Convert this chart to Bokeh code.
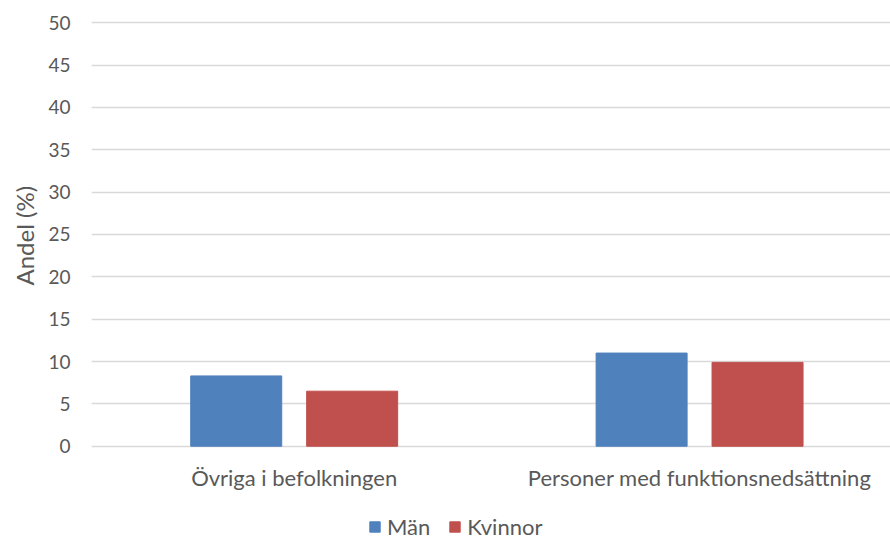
from bokeh.plotting import figure
from bokeh.models import Range1d, FixedTicker, Legend, LegendItem, ColumnDataSource, Title
from bokeh.core.properties import value
from bokeh.embed import file_html
from bokeh.resources import INLINE

categories = ["Övriga i befolkningen", "Personer med funktionsnedsättning"]
man = [8.3, 11.0]
kvinnor = [6.5, 9.9]
series_names = ["Män", "Kvinnor"]
y_ticks = [0, 5, 10, 15, 20, 25, 30, 35, 40, 45, 50]
y_title = "Andel (%)"

FONT = "Lato"
TXT = "#595959"
GRID = "#d9d9d9"
BLUE = "#4f81bd"
RED = "#c0504d"

xpos = [i + 0.5 for i in range(len(categories))]
src = ColumnDataSource(dict(
    xm=[x - 0.143 for x in xpos],
    xk=[x + 0.143 for x in xpos],
    man=man, kvinnor=kvinnor,
))
lab = ColumnDataSource(dict(x=xpos, y=[-3.7] * len(categories), text=categories))

p = figure(width=890, height=541, output_backend="svg", toolbar_location=None,
           x_range=Range1d(0, 1.971), y_range=Range1d(-11.25, 52.63),
           min_border_left=91, min_border_right=0, min_border_top=0, min_border_bottom=0)
p.outline_line_color = None
p.background_fill_color = "white"
p.border_fill_color = "white"
p.xaxis.visible = False

rm = p.vbar(x="xm", top="man", width=0.2245, source=src, fill_color=BLUE, line_color=BLUE)
rk = p.vbar(x="xk", top="kvinnor", width=0.2245, source=src, fill_color=RED, line_color=RED)

# category labels (below the zero line)
p.text(x="x", y="y", text="text", source=lab, text_align="center", text_baseline="middle",
       text_font=value(FONT), text_font_size="22px", text_color=TXT)

# y axis
p.yaxis.ticker = FixedTicker(ticks=y_ticks)
p.yaxis.axis_line_color = None
p.yaxis.major_tick_line_color = None
p.yaxis.minor_tick_line_color = None
p.yaxis.major_tick_out = 0
p.yaxis.major_tick_in = 0
p.yaxis.minor_tick_out = 0
p.yaxis.major_label_standoff = 21
p.yaxis.major_label_text_font = FONT
p.yaxis.major_label_text_font_size = "19px"
p.yaxis.major_label_text_color = TXT

# y axis title, centred on the 0-50 plot area
yt = Title(text=y_title, align="left", offset=256, standoff=13,
           text_font=FONT, text_font_size="24px", text_font_style="normal",
           text_color=TXT)
p.add_layout(yt, "left")

p.ygrid.ticker = FixedTicker(ticks=y_ticks)
p.ygrid.grid_line_color = GRID
p.ygrid.grid_line_width = 1.5
p.xgrid.grid_line_color = None

legend = Legend(items=[LegendItem(label=series_names[0], renderers=[rm]),
                       LegendItem(label=series_names[1], renderers=[rk])],
                orientation="horizontal", location=(277, 1))
legend.border_line_color = None
legend.background_fill_alpha = 0
legend.label_text_font = FONT
legend.label_text_font_size = "22px"
legend.label_text_color = TXT
legend.glyph_width = 13
legend.glyph_height = 13
legend.label_standoff = 6
legend.spacing = 18
legend.padding = 0
legend.margin = 0
p.add_layout(legend, "center")

open("out.html", "w").write(file_html(p, INLINE))
